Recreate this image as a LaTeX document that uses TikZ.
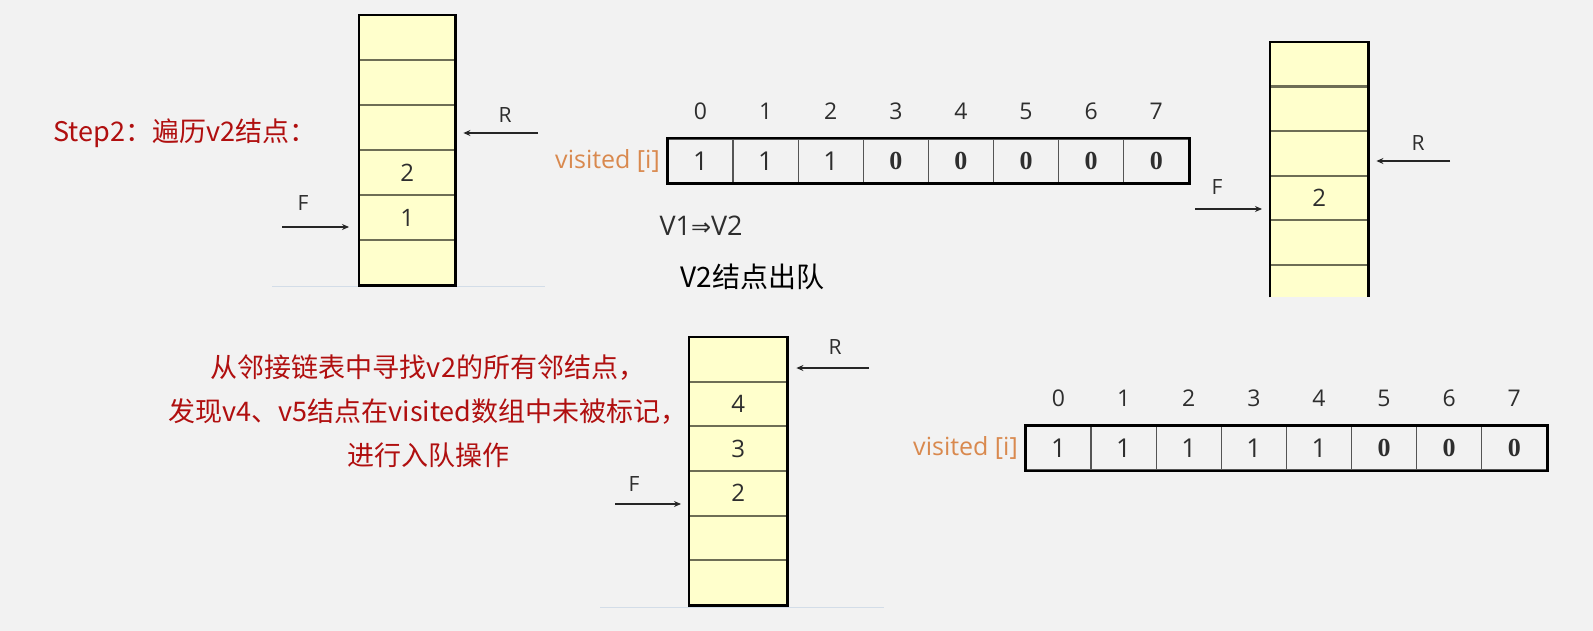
\documentclass[tikz,border=0pt]{standalone}
\usepackage{fontspec}
\setmainfont{Liberation Serif}
\setsansfont{Open Sans}
\newfontfamily\cjk{Noto Sans CJK SC}
\newfontfamily\symfont{DejaVu Sans}
\usetikzlibrary{arrows.meta}
\usetikzlibrary{positioning}

\definecolor{bgcol}{HTML}{F2F2F2}
\definecolor{qyellow}{HTML}{FFFFCC}
\definecolor{qline}{HTML}{6E6E55}
\definecolor{txtgray}{HTML}{2E2E2E}
\definecolor{arrgray}{HTML}{262626}
\definecolor{cellline}{HTML}{555555}
\definecolor{visorange}{HTML}{D9894E}
\definecolor{notered}{HTML}{B00F0F}
\definecolor{faint}{HTML}{D3DDE8}

\newcommand\vone{1}
\newcommand\vzero{{\rmfamily\bfseries 0}}

\tikzset{
  queue/.style={fill=qyellow, inner sep=0pt, anchor=north west},
  qframe/.style={draw=black, line width=2.6pt},
  rowline/.style={draw=qline, line width=2.2pt},
  qnum/.style={font=\sffamily\fontsize{24}{24}\selectfont, text=txtgray},
  ptr/.style={-{Stealth[length=7pt,width=6pt]}, line width=2.1pt, draw=arrgray},
  ptrlabel/.style={font=\sffamily\fontsize{21}{21}\selectfont, text=txtgray},
  cell/.style={draw=cellline, line width=1.4pt, minimum width=65.1pt, minimum height=44pt,
    inner sep=0pt, font=\sffamily\fontsize{26}{26}\selectfont, text=txtgray},
  aframe/.style={draw=black, line width=2.4pt},
  idx/.style={font=\sffamily\fontsize{23}{23}\selectfont, text=txtgray},
  vislabel/.style={font=\sffamily\fontsize{25}{25}\selectfont, text=visorange, anchor=east},
  note/.style={font=\cjk\fontsize{27}{44}\selectfont, text=notered},
  hand/.style={font=\cjk\fontsize{28}{28}\selectfont, text=black, anchor=west}
}

\begin{document}
\begin{tikzpicture}[x=1pt, y=-1pt]
    % Background
    \fill[bgcol] (0,0) rectangle (1593,631);
    \useasboundingbox (0,0) rectangle (1593,631);
    % Faint base lines
    \draw[faint, line width=1pt] (272,286) -- (545,286);
    \draw[faint, line width=1pt] (600,607) -- (884,607);

    % Caption
    \node[note, anchor=west] (step) at (50,133) {Step2：遍历v2结点：};

    % Queue 1
    \node[queue, minimum width=96pt, minimum height=270pt] (q1) at (359,15) {};
    \foreach \k in {1,...,5}
        \draw[rowline] ([yshift={-45pt*\k}]q1.north west) -- ([yshift={-45pt*\k}]q1.north east);
    \draw[qframe] (q1.north west) rectangle (q1.south east);
    \node[qnum] (q1n2) at ([yshift=-157.5pt]q1.north) {2};
    \node[qnum] (q1n1) at ([yshift=-202.5pt]q1.north) {1};
    \coordinate (q1r) at (538,133);
    \coordinate (q1f) at (282,227);
    \draw[ptr] (q1r) -- ([xshift=8pt]q1r -| q1.east);
    \draw[ptr] (q1f) -- ([xshift=-10pt]q1f -| q1.west);
    \node[ptrlabel] (q1rl) at (505,115) {R};
    \node[ptrlabel] (q1fl) at (303,203) {F};

    % visited array 1
    \foreach \v [count=\i from 0] in {\vone,\vone,\vone,\vzero,\vzero,\vzero,\vzero,\vzero}
        \node[cell] (a1c\i) at ({668+65.1*\i+32.55},161) {\v};
    \draw[aframe] (a1c0.north west) rectangle (a1c7.south east);
    \foreach \i in {0,...,7}
        \node[idx] (a1i\i) at ([yshift=27pt]a1c\i.north) {\i};
    \node[vislabel] (a1l) at ([xshift=-4pt]a1c0.west) {visited [i]};

    % Path and dequeue note
    \node[font=\sffamily\fontsize{27}{27}\selectfont, text=txtgray, anchor=west] (path) at (656,226)
        {V1{\symfont\fontsize{24}{24}\selectfont ⇒}V2};
    \node[hand] (deq) at (677,277) {V2结点出队};

    % Queue 2 (open bottom)
    \node[queue, minimum width=98pt, minimum height=255pt] (q2) at (1270,42) {};
    \foreach \k in {1,...,5}
        \draw[rowline] ([yshift={-44.6pt*\k}]q2.north west) -- ([yshift={-44.6pt*\k}]q2.north east);
    \draw[qframe] (q2.south west) -- (q2.north west) -- (q2.north east) -- (q2.south east);
    \node[qnum] (q2n2) at ([yshift=-156.1pt]q2.north) {2};
    \coordinate (q2r) at (1450,161);
    \coordinate (q2f) at (1195,209);
    \draw[ptr] (q2r) -- ([xshift=8pt]q2r -| q2.east);
    \draw[ptr] (q2f) -- ([xshift=-8pt]q2f -| q2.west);
    \node[ptrlabel] (q2rl) at (1418,143) {R};
    \node[ptrlabel] (q2fl) at (1217,187) {F};

    % Adjacency note
    \node[note, align=center] (find) at (428,411)
        {从邻接链表中寻找v2的所有邻结点，\\发现v4、v5结点在visited数组中未被标记，\\进行入队操作};

    % Queue 3
    \node[queue, minimum width=98pt, minimum height=268pt] (q3) at (689,337) {};
    \foreach \k in {1,...,5}
        \draw[rowline] ([yshift={-44.67pt*\k}]q3.north west) -- ([yshift={-44.67pt*\k}]q3.north east);
    \draw[qframe] (q3.north west) rectangle (q3.south east);
    \node[qnum] (q3n4) at ([yshift=-67pt]q3.north) {4};
    \node[qnum] (q3n3) at ([yshift=-111.7pt]q3.north) {3};
    \node[qnum] (q3n2) at ([yshift=-156.3pt]q3.north) {2};
    \coordinate (q3r) at (869,368);
    \coordinate (q3f) at (615,504);
    \draw[ptr] (q3r) -- ([xshift=9pt]q3r -| q3.east);
    \draw[ptr] (q3f) -- ([xshift=-8pt]q3f -| q3.west);
    \node[ptrlabel] (q3rl) at (835,347) {R};
    \node[ptrlabel] (q3fl) at (634,484) {F};

    % visited array 2
    \foreach \v [count=\i from 0] in {\vone,\vone,\vone,\vone,\vone,\vzero,\vzero,\vzero}
        \node[cell] (a2c\i) at ({1026+65.1*\i+32.55},448) {\v};
    \draw[aframe] (a2c0.north west) rectangle (a2c7.south east);
    \foreach \i in {0,...,7}
        \node[idx] (a2i\i) at ([yshift=27pt]a2c\i.north) {\i};
    \node[vislabel] (a2l) at ([xshift=-4pt]a2c0.west) {visited [i]};
\end{tikzpicture}
\end{document}
